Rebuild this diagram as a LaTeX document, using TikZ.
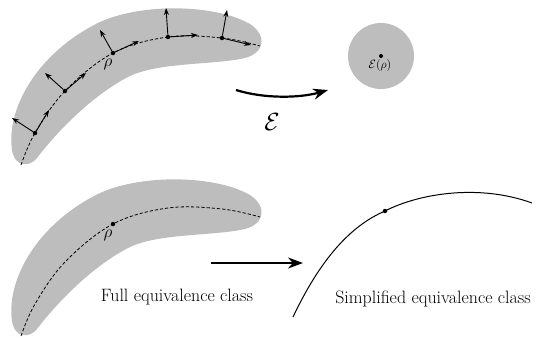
\documentclass[tikz,border=0pt]{standalone}
\usetikzlibrary{arrows.meta}
\begin{document}
\begin{tikzpicture}[x=1pt,y=-1pt,
  blobfill/.style={fill=black!26,draw=none},
  dashcurve/.style={line width=0.8pt,dash pattern=on 3.2pt off 2pt},
  vecarrow/.style={line width=0.9pt,-{Stealth[length=7pt,width=5pt]}},
  bigarrow/.style={line width=2.2pt,-{Stealth[length=15pt,width=11pt]}},
  dotnode/.style={circle,fill=black,inner sep=0pt,minimum size=4.5pt},
  lbl/.style={font=\fontsize{17.9}{20}\selectfont}
]
\useasboundingbox (0,0) rectangle (537,337);
% blobs
\foreach \dy in {0,171}{
\begin{scope}[yshift=-\dy pt]
\fill[blobfill] (37,158) .. controls (30,167) and (15,168) .. (12,150)
  .. controls (6,108) and (38,52) .. (100,22)
  .. controls (142,3) and (215,4) .. (250,24)
  .. controls (268,36) and (264,53) .. (245,58)
  .. controls (215,65) and (160,62) .. (130,76)
  .. controls (92,95) and (56,133) .. (37,158) -- cycle;
\end{scope}}
% dashed curves
\draw[dashcurve] plot[smooth,tension=0.6] coordinates {(21,165) (35,133) (65,91) (113,53) (168,37) (222,38) (260,46)};
\draw[dashcurve] plot[smooth,tension=0.6] coordinates {(21,336) (35,304) (65,262) (113,224) (168,208) (222,209) (260,217)};
% points with vectors
\node[dotnode] (p1) at (35,133) {};
\node[dotnode] (p2) at (65,91) {};
\node[dotnode] (p3) at (113,53) {};
\node[dotnode] (p4) at (168,37) {};
\node[dotnode] (p5) at (222,38) {};
\coordinate (n1) at (12,118); \coordinate (t1) at (49,110);
\coordinate (n2) at (45,73);  \coordinate (t2) at (86,73);
\coordinate (n3) at (100,30); \coordinate (t3) at (139,41);
\coordinate (n4) at (166,8);  \coordinate (t4) at (198,35);
\coordinate (n5) at (227,10); \coordinate (t5) at (251,45);
\foreach \i in {1,...,5}{
  \draw[vecarrow] (p\i) -- (n\i);
  \draw[vecarrow] (p\i) -- (t\i);
}
\node[font=\fontsize{17}{20}\selectfont] (rho1) at (108,64) {$\rho$};
% circle
\node[circle,fill=black!26,minimum size=66pt,inner sep=0pt] (circ) at (381,56) {};
\node[dotnode,minimum size=4pt] (ep) at (381,56) {};
\node[font=\fontsize{12.5}{14}\selectfont] (eplbl) at (380,65) {$\mathcal{E}(\rho)$};
% curved arrow
\coordinate (ca1) at (236,90);
\coordinate (ca2) at (328,90);
\draw[bigarrow] (ca1) .. controls (265,99) and (300,98) .. (ca2);
\node[font=\fontsize{32}{36}\selectfont] (E) at (272,122) {$\mathcal{E}$};
% bottom
\node[dotnode] (p6) at (113,224) {};
\node[font=\fontsize{17}{20}\selectfont] (rho2) at (108,235) {$\rho$};
\coordinate (ba1) at (211,263);
\coordinate (ba2) at (303,263);
\draw[bigarrow] (ba1) -- (ba2);
\node[lbl] (full) at (177,297) {Full equivalence class};
% simplified curve
\coordinate (s1) at (293,317);
\coordinate (s3) at (532,203);
\node[dotnode] (s2) at (385,211) {};
\draw[line width=1pt] (s1) .. controls (320,260) and (350,226) .. (s2.center)
  .. controls (420,193) and (480,184) .. (s3);
\node[lbl] (simp) at (433,299) {Simplified equivalence class};
\end{tikzpicture}
\end{document}
